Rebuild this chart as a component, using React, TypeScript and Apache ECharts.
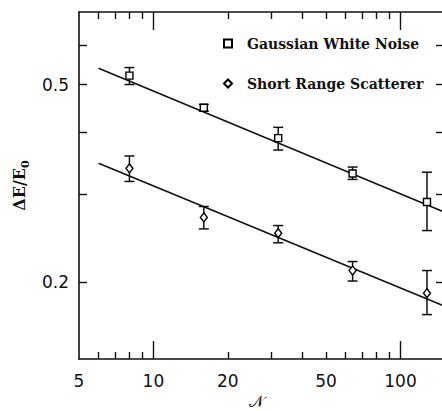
import React, { useEffect, useRef } from "react";
import * as echarts from "echarts";

const N = [8, 16, 32, 64, 128];
const gwnMean = [0.521, 0.449, 0.39, 0.331, 0.29];
const gwnLow = [0.5, 0.442, 0.369, 0.322, 0.254];
const gwnHigh = [0.541, 0.456, 0.41, 0.341, 0.333];
const srsMean = [0.339, 0.27, 0.251, 0.211, 0.19];
const srsLow = [0.319, 0.256, 0.24, 0.201, 0.172];
const srsHigh = [0.359, 0.284, 0.26, 0.22, 0.211];
const fitN = [6, 150];
const gwnFit = [0.539, 0.277];
const srsFit = [0.347, 0.179];

const xLabels = [5, 10, 20, 50, 100];
const xMinorTicks = [6, 7, 8, 9, 20, 30, 40, 50, 60, 70, 80, 90];
const xMajorTicks = [10, 100];
const yTicks = [0.2, 0.3, 0.4, 0.5, 0.6];
const yLabels = [0.2, 0.5];

const INK = "#111";

export default function App() {
  const ref = useRef<HTMLDivElement>(null);
  useEffect(() => {
    const chart = echarts.init(ref.current!, null, { renderer: "svg" });
    const grid = { left: 79, top: 12, width: 365, height: 347, containLabel: false, outerBoundsMode: "none" };
    const baseX = {
      type: "log" as const,
      min: 5,
      max: 150,
      gridIndex: 0,
      splitLine: { show: false },
      minorTick: { show: false },
      axisLine: { show: true, lineStyle: { color: INK, width: 1.6 } },
    };
    const tickStyle = { color: INK, width: 1.4 };
    const xAxes = [
      {
        ...baseX,
        position: "bottom",
        axisTick: { show: true, inside: true, length: 7, lineStyle: tickStyle, customValues: xMinorTicks },
        axisLabel: {
          show: true,
          customValues: xLabels,
          margin: 13,
          fontFamily: "DejaVu Sans",
          fontSize: 17,
          color: INK,
        },
        name: "𝒩",
        nameLocation: "middle",
        nameGap: 33,
        nameTextStyle: { fontFamily: "DejaVu Sans", fontSize: 16, lineHeight: 16, color: INK, padding: [0, 10, 0, 0] },
      },
      {
        ...baseX,
        position: "bottom",
        axisLine: { show: false },
        axisTick: { show: true, inside: true, length: 18, lineStyle: tickStyle, customValues: xMajorTicks },
        axisLabel: { show: false },
      },
      {
        ...baseX,
        position: "top",
        axisTick: { show: true, inside: true, length: 7, lineStyle: tickStyle, customValues: xMinorTicks },
        axisLabel: { show: false },
      },
      {
        ...baseX,
        position: "top",
        axisLine: { show: false },
        axisTick: { show: true, inside: true, length: 18, lineStyle: tickStyle, customValues: xMajorTicks },
        axisLabel: { show: false },
      },
    ];
    const baseY = {
      type: "log" as const,
      min: 0.14,
      max: 0.7,
      gridIndex: 0,
      splitLine: { show: false },
      minorTick: { show: false },
      axisLine: { show: true, lineStyle: { color: INK, width: 1.6 } },
      axisTick: { show: true, inside: true, length: 8, lineStyle: tickStyle, customValues: yTicks },
    };
    const yAxes = [
      {
        ...baseY,
        position: "left",
        axisLabel: {
          show: true,
          customValues: yLabels,
          margin: 10,
          fontFamily: "DejaVu Sans",
          fontSize: 17,
          color: INK,
        },
        name: "{a|ΔE/E}{b|0}",
        nameLocation: "middle",
        nameGap: 44,
        nameTextStyle: {
          color: INK,
          rich: {
            a: { fontFamily: "DejaVu Serif", fontWeight: "bold", fontSize: 16, lineHeight: 24, verticalAlign: "middle", color: INK },
            b: { fontFamily: "DejaVu Serif", fontWeight: "bold", fontSize: 11, lineHeight: 11, verticalAlign: "bottom", color: INK },
          },
        },
      },
      {
        ...baseY,
        position: "right",
        axisLabel: { show: false },
      },
    ];

    const errRender = (params: any, api: any) => {
      const x = api.value(0);
      const lo = api.coord([x, api.value(1)]);
      const hi = api.coord([x, api.value(2)]);
      const w = 5;
      const st = { stroke: INK, lineWidth: 1.5 };
      return {
        type: "group",
        children: [
          { type: "line", shape: { x1: lo[0], y1: lo[1], x2: hi[0], y2: hi[1] }, style: st },
          { type: "line", shape: { x1: lo[0] - w, y1: lo[1], x2: lo[0] + w, y2: lo[1] }, style: st },
          { type: "line", shape: { x1: hi[0] - w, y1: hi[1], x2: hi[0] + w, y2: hi[1] }, style: st },
        ],
      };
    };

    const option: any = {
      animation: false,
      backgroundColor: "#fff",
      grid,
      xAxis: xAxes,
      yAxis: yAxes,
      legend: {
        orient: "vertical",
        left: 218,
        top: 31,
        itemWidth: 8,
        itemHeight: 8,
        itemGap: 25,
        textStyle: {
          fontFamily: "DejaVu Serif",
          fontWeight: "bold",
          fontSize: 14,
          color: INK,
          lineHeight: 15,
          padding: [0, 0, 0, 10],
        },
        data: [
          { name: "Gaussian White Noise", icon: "rect" },
          { name: "Short Range Scatterer", icon: "diamond" },
        ],
      },
      series: [
        {
          type: "line",
          data: fitN.map((n, i) => [n, gwnFit[i]]),
          showSymbol: false,
          symbol: "none",
          lineStyle: { color: INK, width: 1.6 },
          silent: true,
          z: 2,
        },
        {
          type: "line",
          data: fitN.map((n, i) => [n, srsFit[i]]),
          showSymbol: false,
          symbol: "none",
          lineStyle: { color: INK, width: 1.6 },
          silent: true,
          z: 2,
        },
        {
          type: "custom",
          renderItem: errRender,
          data: N.map((n, i) => [n, gwnLow[i], gwnHigh[i]]),
          encode: { x: 0, y: [1, 2] },
          z: 3,
        },
        {
          type: "custom",
          renderItem: errRender,
          data: N.map((n, i) => [n, srsLow[i], srsHigh[i]]),
          encode: { x: 0, y: [1, 2] },
          z: 3,
        },
        {
          name: "Gaussian White Noise",
          type: "scatter",
          data: N.map((n, i) => [n, gwnMean[i]]),
          symbol: "rect",
          symbolSize: 7,
          itemStyle: { color: "#fff", borderColor: "#000", borderWidth: 1.4, opacity: 1 },
          z: 4,
        },
        {
          name: "Short Range Scatterer",
          type: "scatter",
          data: N.map((n, i) => [n, srsMean[i]]),
          symbol: "diamond",
          symbolSize: [7, 9],
          itemStyle: { color: "#fff", borderColor: "#000", borderWidth: 1.4, opacity: 1 },
          z: 4,
        },
      ],
    };
    chart.setOption(option);
    return () => chart.dispose();
  }, []);
  return (
    <div
      ref={ref}
      style={{ position: "fixed", left: 0, top: 0, width: 442, height: 411 }}
    />
  );
}
